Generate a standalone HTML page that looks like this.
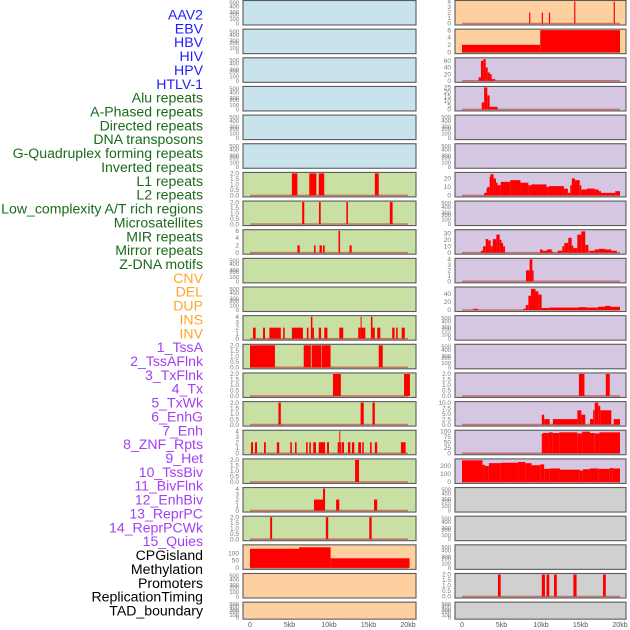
<!DOCTYPE html>
<html><head><meta charset="utf-8">
<style>
html,body{margin:0;padding:0;background:#fff;}
svg{display:block;}
</style></head>
<body>
<svg id="chart" width="630" height="630" viewBox="0 0 630 630" xmlns="http://www.w3.org/2000/svg" font-family="Liberation Sans, sans-serif"></svg>
<script>
// ---- labels ----
const labelTexts = ["AAV2","EBV","HBV","HIV","HPV","HTLV-1","Alu repeats","A-Phased repeats","Directed repeats","DNA transposons","G-Quadruplex forming repeats","Inverted repeats","L1 repeats","L2 repeats","Low_complexity A/T rich regions","Microsatellites","MIR repeats","Mirror repeats","Z-DNA motifs","CNV","DEL","DUP","INS","INV","1_TssA","2_TssAFlnk","3_TxFlnk","4_Tx","5_TxWk","6_EnhG","7_Enh","8_ZNF_Rpts","9_Het","10_TssBiv","11_BivFlnk","12_EnhBiv","13_ReprPC","14_ReprPCWk","15_Quies","CPGisland","Methylation","Promoters","ReplicationTiming","TAD_boundary"];
const labelGroups = ["v","v","v","v","v","v","r","r","r","r","r","r","r","r","r","r","r","r","r","s","s","s","s","s","c","c","c","c","c","c","c","c","c","c","c","c","c","c","c","o","o","o","o","o"];
const xTicks = [0,5,10,15,20];
const xTickLabels = ["0","5kb","10kb","15kb","20kb"];

// ---- data: [start_kb, end_kb, value] ----
const L_L1 = [[5.3,6.0,2],[7.5,8.4,2],[8.7,9.4,2],[15.8,16.3,2]];
const L_L2 = [[6.6,6.87,2],[8.73,8.95,2],[12.2,12.4,2],[17.7,18.05,2]];
const L_MIR = [[6.0,6.3,2],[8.1,8.3,2],[8.8,9.1,2],[9.24,9.45,2],[11.2,11.4,6],[12.6,12.87,2]];
const L_INS = [[0.38,0.72,2],[1.65,1.9,2],[2.45,3.9,2],[4.2,4.4,2],[5.3,6.7,2],[7.2,7.4,2],[7.7,7.9,4],[7.9,8.1,2],[8.7,9.0,2],[9.4,9.8,2],[11.3,11.8,2],[13.7,14.0,2],[14.0,14.1,4],[14.1,14.6,2],[15.3,15.5,4],[15.5,15.8,2],[16.1,16.5,2],[18.0,18.3,2],[18.5,18.7,2],[19.2,19.6,2]];
const L_TssA = [[0.0,3.16,2],[6.8,7.7,2],[7.8,9.0,2],[9.06,10.2,2],[16.3,16.8,2]];
const L_TssAFlnk = [[10.5,11.5,2],[19.5,20.25,2]];
const L_TxFlnk = [[3.6,3.9,2],[14.0,14.4,2],[15.5,15.8,2]];
const L_Tx = [[0.13,0.38,2],[0.63,0.89,2],[1.77,2.0,2],[3.4,3.7,2],[5.1,5.3,2],[5.7,5.9,2],[7.1,7.3,2],[7.5,7.7,2],[8.0,8.35,2],[8.7,9.5,2],[9.75,10.0,2],[11.1,11.3,2],[11.3,11.4,4],[11.4,11.5,2],[11.6,11.9,2],[12.4,12.7,2],[12.9,13.2,2],[13.7,14.05,2],[14.2,14.4,2],[15.2,15.4,2],[15.8,16.1,2],[19.1,19.7,2]];
const L_TxWk = [[13.3,13.8,2]];
const L_EnhG = [[8.1,9.24,2],[9.24,9.5,4],[10.9,11.3,2],[15.7,16.1,2]];
const L_Enh = [[2.55,2.8,2],[9.6,9.9,2],[15.1,15.4,2]];
const L_CPG = [[0.0,6.2,130],[6.2,10.2,140],[10.2,20.2,65]];

const R_AAV2 = [[8.5,8.65,2],[10.1,10.25,2],[11.0,11.15,2],[14.2,14.35,4],[19.2,19.35,4]];
const R_EBV = [[0.0,9.9,2],[9.9,20.0,6]];
const R_HBV = [[2.1,2.4,10],[2.4,2.7,60],[2.7,3.0,65],[3.0,3.25,40],[3.25,3.5,25],[3.5,3.75,20],[3.75,4.2,5]];
const R_HIV = [[2.5,2.8,8],[2.8,3.2,25],[3.2,3.5,16],[3.5,3.8,3],[3.8,4.5,3]];
const R_L1 = [[2.8,3.1,3],[3.1,3.2,8],[3.2,3.5,10],[3.5,3.6,22],[3.6,4.0,25],[4.0,4.3,20],[4.3,4.5,15],[4.5,4.9,12],[4.9,6.1,16],[6.1,7.4,18],[7.4,8.4,15],[8.4,8.8,12],[8.8,10.7,13],[10.7,11.0,10],[11.0,12.9,11],[12.9,13.4,8],[13.4,13.7,3],[13.7,13.9,12],[13.9,14.3,20],[14.3,14.9,18],[14.9,15.1,12],[15.1,15.8,7],[15.8,16.8,8],[16.8,17.3,7],[17.3,17.6,5],[17.6,19.4,3],[19.4,20.0,5]];
const R_MIR = [[2.4,2.66,3],[2.66,3.0,10],[3.0,3.3,21],[3.3,3.63,19],[3.63,3.9,10],[3.9,4.35,21],[4.35,4.77,28],[4.77,5.0,20],[5.0,5.2,15],[5.2,5.44,10],[9.87,10.2,5],[10.2,10.76,3],[10.76,11.35,5],[11.35,11.5,2],[12.1,12.7,3],[12.7,12.95,10],[12.95,13.45,15],[13.45,13.88,23],[13.88,14.1,11],[14.1,14.6,7],[14.6,15.1,28],[15.1,15.6,33],[15.6,16.0,12],[16.1,16.8,3],[16.8,17.3,5],[17.3,18.1,6],[18.1,18.9,5],[18.9,19.6,3]];
const R_ZDNA = [[8.1,8.56,2],[8.56,8.9,4],[8.9,9.07,2]];
const R_CNV = [[1.44,2.0,3],[7.76,8.06,3],[8.06,8.4,12],[8.4,8.73,35],[8.73,9.3,52],[9.3,9.66,46],[9.66,10.08,38],[10.08,11.1,5],[11.1,14.7,6],[14.7,15.7,7],[15.7,17.2,6],[17.2,18.1,8],[18.1,18.8,10],[18.8,20.0,8]];
const R_TssAFlnk = [[14.8,15.5,2],[18.2,18.7,2]];
const R_TxFlnk = [[10.1,10.4,4.5],[10.4,11.1,2.5],[11.5,14.6,2.5],[14.6,15.1,6.5],[15.1,15.6,4.5],[16.2,16.6,2.5],[16.6,16.8,6.5],[16.8,17.25,10],[17.25,17.5,8.5],[17.5,18.9,6.5],[19.2,20.0,2.5]];
const R_Tx = [[10.1,10.2,88],[10.2,11.0,92],[11.0,11.5,95],[11.5,12.3,92],[12.3,14.6,95],[14.6,15.2,90],[15.2,16.2,98],[16.2,16.8,92],[16.8,17.4,90],[17.4,20.0,95]];
const R_TxWk = [[0.0,2.6,265],[2.6,2.9,210],[2.9,3.4,195],[3.4,4.9,230],[4.9,7.1,235],[7.1,8.0,245],[8.0,8.8,230],[8.8,9.9,205],[9.9,10.4,215],[10.4,11.1,160],[11.1,12.4,165],[12.4,14.9,150],[14.9,15.3,140],[15.3,16.2,155],[16.2,17.3,165],[17.3,18.7,160],[18.7,19.1,170],[19.1,20.0,165]];
const R_Prom = [[4.55,4.9,2],[10.1,10.5,2],[10.7,11.05,2],[11.65,12.0,2],[14.1,14.5,2],[17.85,18.2,2]];

// ---- panel specs: [series, axisMax, ticks, tickLabels, background] ----
const BLUE="#c8e3eb", GREEN="#c9e0a5", ORANGE="#fecf9f", LAV="#d5c6e2", GRAY="#d0d0d0";
const T2=[0,0.5,1,1.5,2], T2L=["0.0","0.5","1.0","1.5","2.0"];
const leftPanels = [
 [null,0,null,null,BLUE],[null,0,null,null,BLUE],[null,0,null,null,BLUE],[null,0,null,null,BLUE],[null,0,null,null,BLUE],[null,0,null,null,BLUE],
 [L_L1,2,T2,T2L,GREEN],[L_L2,2,T2,T2L,GREEN],[L_MIR,6,[0,2,4,6],["0","2","4","6"],GREEN],
 [null,0,null,null,GREEN],[null,0,null,null,GREEN],
 [L_INS,4,[0,1,2,3,4],["0","1","2","3","4"],GREEN],
 [L_TssA,2,T2,T2L,GREEN],[L_TssAFlnk,2,T2,T2L,GREEN],[L_TxFlnk,2,T2,T2L,GREEN],
 [L_Tx,4,[0,1,2,3,4],["0","1","2","3","4"],GREEN],[L_TxWk,2,T2,T2L,GREEN],
 [L_EnhG,4,[0,1,2,3,4],["0","1","2","3","4"],GREEN],[L_Enh,2,T2,T2L,GREEN],
 [L_CPG,150,[0,50,100],["0","50","100"],ORANGE],
 [null,0,null,null,ORANGE],[null,0,null,null,ORANGE]
];
const rightPanels = [
 [R_AAV2,4,[0,1,2,3,4],["0","1","2","3","4"],ORANGE],
 [R_EBV,6,[0,2,4,6],["0","2","4","6"],ORANGE],
 [R_HBV,66,[0,20,40,60],["0","20","40","60"],LAV],
 [R_HIV,25,[0,5,10,15,20,25],["0","5","10","15","20","25"],LAV],
 [null,0,null,null,LAV],[null,0,null,null,LAV],
 [R_L1,26,[0,10,20],["0","10","20"],LAV],
 [null,0,null,null,LAV],
 [R_MIR,34,[0,10,20,30],["0","10","20","30"],LAV],
 [R_ZDNA,4,[0,1,2,3,4],["0","1","2","3","4"],LAV],
 [R_CNV,54,[0,20,40],["0","20","40"],LAV],
 [null,0,null,null,LAV],[null,0,null,null,LAV],
 [R_TssAFlnk,2,T2,T2L,LAV],
 [R_TxFlnk,10,[0,2.5,5,7.5,10],["0.0","2.5","5.0","7.5","10.0"],LAV],
 [R_Tx,100,[0,25,50,75,100],["0","25","50","75","100"],LAV],
 [R_TxWk,270,[0,100,200],["0","100","200"],LAV],
 [null,0,null,null,GRAY],[null,0,null,null,GRAY],[null,0,null,null,GRAY],
 [R_Prom,2,T2,T2L,GRAY],
 [null,0,null,null,GRAY]
];

const svg = document.getElementById('chart');
const NS = "http://www.w3.org/2000/svg";
function mk(tag, attrs, parent){const e=document.createElementNS(NS,tag);for(const k in attrs)e.setAttribute(k,attrs[k]);(parent||svg).appendChild(e);return e;}

// labels
const groupColor={v:"#2020ff",r:"#1a6b1a",s:"#ffa526",c:"#a43ef5",o:"#000000"};
labelTexts.forEach((t,i)=>{
  const e=mk('text',{x:203,y:19.5+i*13.86,'text-anchor':'end','font-size':'14.1',fill:groupColor[labelGroups[i]]});
  e.textContent=t;
  
  
});

function rowTop(i){return i*28.65+0.5;}
function rowH(i){return i===21?17:24.5;}
const emptyFrac=[0,0.2,0.42,0.52,0.78,0.95];
const emptyLab=["0","100","200","300","400","500"];

function drawPanel(spec,i,side){
  const [data,ymax,ticks,tlabels,bg]=spec;
  const x0 = side==='L'?243:455, w = side==='L'?173:171;
  const zero = side==='L'?250:462, pxkb=7.9;
  const top=rowTop(i), h=rowH(i);
  const g=mk('g',{});
  
  
  mk('rect',{x:x0,y:top,width:w,height:h,fill:bg,stroke:'#5a5a5a','stroke-width':1.1},g);
  const yb=top+h-1.5, ih=h-2.5;
  const xs=k=>zero+k*pxkb;
  const ys=v=>yb-(v/ymax)*ih;
  const tx=x0-4;
  if(!data){
    emptyFrac.forEach((f,j)=>{
      const t=mk('text',{x:tx,y:yb-f*ih+2,'text-anchor':'end','font-size':'5.8',fill:'#777'},g);
      t.textContent=emptyLab[j];
    });
    return;
  }
  ticks.forEach((v,j)=>{
    const t=mk('text',{x:tx,y:ys(v)+2.2,'text-anchor':'end','font-size':'6.5',fill:'#777'},g);
    t.textContent=tlabels[j];
  });
  mk('line',{x1:xs(0),x2:xs(20),y1:yb,y2:yb,stroke:'#c0504a','stroke-width':1.6,opacity:0.7},g);
  data.forEach(d=>{
    const r=mk('rect',{x:xs(d[0]),y:ys(d[2]),width:Math.max(1,xs(d[1])-xs(d[0])),height:yb-ys(d[2]),fill:'#ff0000'},g);
    
    
  });
}
leftPanels.forEach((p,i)=>drawPanel(p,i,'L'));
rightPanels.forEach((p,i)=>drawPanel(p,i,'R'));

// x axes
[250,462].forEach((z,s)=>{
  xTicks.forEach((k,j)=>{
    const t=mk('text',{x:z+k*7.9,y:627,'text-anchor':'middle','font-size':'7',fill:'#555'});
    t.textContent=xTickLabels[j];
    
    
  });
});
</script>
</body></html>
